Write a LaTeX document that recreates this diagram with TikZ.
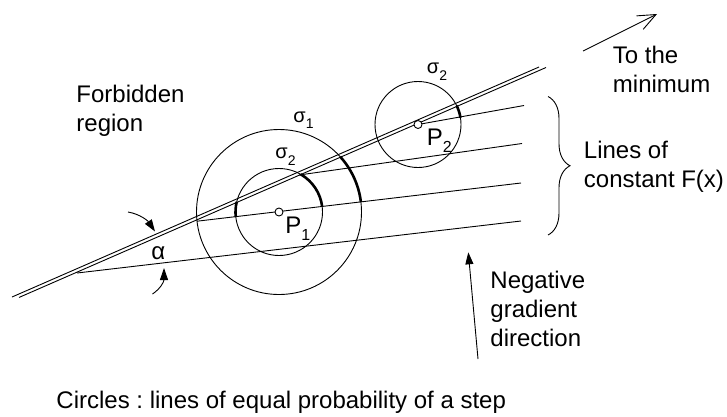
\documentclass[tikz,border=0pt]{standalone}
\usepackage{fontspec}
\setmainfont{Liberation Sans}
\usetikzlibrary{arrows.meta,decorations.pathreplacing,calc}
\frenchspacing
\begin{document}
\begin{tikzpicture}[x=1pt,y=-1pt,
  every path/.style={line width=0.9pt},
  thickarc/.style={line width=2.6pt},
  lbl/.style={inner sep=0pt, anchor=base west, font=\fontsize{24}{29}\selectfont, align=left},
  sig/.style={inner sep=0pt, anchor=base west, font=\fontsize{20}{20}\selectfont},
  ptlbl/.style={inner sep=0pt, anchor=base west, font=\fontsize{24}{24}\selectfont},
  dot/.style={circle, draw, fill=white, inner sep=0pt, minimum size=8pt, line width=0.9pt},
  filledtip/.style={-{Triangle[length=12pt,width=8pt]}},
  opentip/.style={-{Straight Barb[length=18pt,width=15pt,line width=0.9pt]}}
]
\useasboundingbox (0,0) rectangle (727,416);

% key points
\coordinate (P1) at (279,212);
\coordinate (P2) at (418,124.5);

% double line (boundary of forbidden region)
\coordinate (du1) at (12,297);
\coordinate (du2) at (539,67);
\coordinate (dl1) at (19,297.45);
\coordinate (dl2) at (546,67.5);
\draw (du1) -- (du2);
\draw (dl1) -- (dl2);

% lines of constant F(x)
\coordinate (f1b) at (524,105.5);
\coordinate (f2a) at (299,175);
\coordinate (f2b) at (522,143.5);
\coordinate (f3a) at (197,221.2);
\coordinate (f3b) at (521,183);
\coordinate (f4a) at (77,273);
\coordinate (f4b) at (521,221);
\draw (P2) -- (f1b);
\draw (f2a) -- (f2b);
\draw (f3a) -- (f3b);
\draw (f4a) -- (f4b);

% circles
\draw (P1) circle[radius=82.5];
\draw (P1) circle[radius=43.5];
\draw (P2) circle[radius=43];

% thick arcs
\draw[thickarc] (P1) ++(-7:82.5) arc[start angle=-7, end angle=-42, radius=82.5];
\draw[thickarc] (P1) ++(-7:43.5) arc[start angle=-7, end angle=-60, radius=43.5];
\draw[thickarc] (P1) ++(-166.6:43.5) arc[start angle=-166.6, end angle=-186.5, radius=43.5];
\draw[thickarc] (P2) ++(-9:43) arc[start angle=-9, end angle=-26, radius=43];

% point markers
\node[dot] (p1dot) at (P1) {};
\node[dot] (p2dot) at (P2) {};

% labels
\node[ptlbl] (p1lbl) at (285,233) {P\raisebox{-7pt}{\fontsize{16}{16}\selectfont 1}};
\node[ptlbl] (p2lbl) at (426.5,145) {P\raisebox{-7pt}{\fontsize{16}{16}\selectfont 2}};
\node[sig] (s1) at (293,122) {σ\raisebox{-6pt}{\fontsize{14}{14}\selectfont 1}};
\node[sig] (s2a) at (275,158.3) {σ\raisebox{-7pt}{\fontsize{14}{14}\selectfont 2}};
\node[sig] (s2b) at (426.5,73.3) {σ\raisebox{-7pt}{\fontsize{14}{14}\selectfont 2}};
\node[ptlbl] (alpha) at (151,259) {α};

% multi-line labels: anchor is the baseline of the last line
\node[lbl] (forbidden) at (76,131) {Forbidden\\region};
\node[lbl] (tomin) at (612.5,92) {To the\\minimum};
\node[lbl] (lines) at (583.5,187) {Lines of\\constant F(x)};
\node[lbl] (neggrad) at (490,346) {Negative\\gradient\\direction};
\node[lbl] (circles) at (56,408) {Circles : lines of equal probability of a step};

% arrows
\coordinate (tm1) at (583,51);
\coordinate (tm2) at (657,14);
\draw[opentip] (tm1) -- (tm2);
\coordinate (ng1) at (478,359);
\coordinate (ng2) at (468.3,252.3);
\draw[filledtip] (ng1) -- (ng2);

% alpha arrows
\coordinate (au1) at (128,212);
\coordinate (au2) at (155,231.5);
\draw[filledtip] (au1) .. controls (140,214) and (148,221) .. (au2);
\coordinate (al1) at (152.5,294);
\coordinate (al2) at (164,268);
\draw[filledtip] (al1) .. controls (160,289) and (164,282) .. (al2);

% brace
\coordinate (br1) at (548,96.5);
\coordinate (br2) at (548,235);
\draw[decorate, decoration={brace, amplitude=22pt, aspect=0.5}] (br1) -- (br2);
\end{tikzpicture}
\end{document}
